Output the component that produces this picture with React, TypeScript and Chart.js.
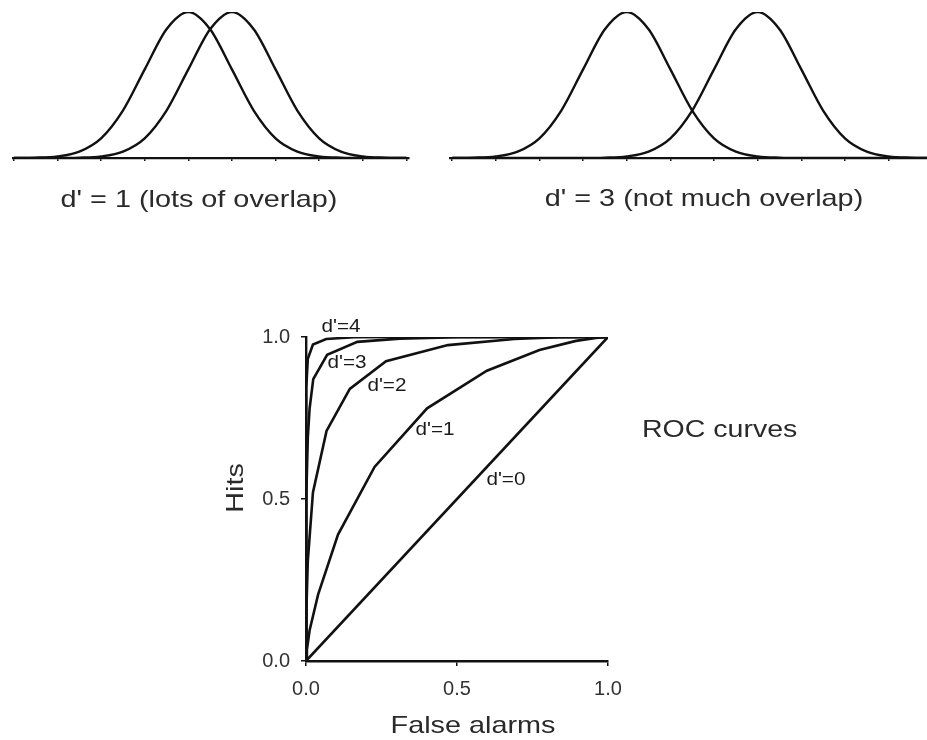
import React, { useEffect, useRef } from 'react';
import { Chart, registerables } from 'chart.js';

Chart.register(...registerables);

// ---------- Top panels: overlapping distributions ----------
const leftX = [-4, -3.5, -3, -2.5, -2, -1.5, -1, -0.5, 0, 0.5, 1, 1.5, 2, 2.5, 3, 3.5, 4, 4.5, 5];
const leftNoise = [0, 0.002, 0.011, 0.044, 0.135, 0.325, 0.607, 0.882, 1, 0.882, 0.607, 0.325, 0.135, 0.044, 0.011, 0.002, 0, 0, 0];
const leftSignal = [0, 0, 0, 0.002, 0.011, 0.044, 0.135, 0.325, 0.607, 0.882, 1, 0.882, 0.607, 0.325, 0.135, 0.044, 0.011, 0.002, 0];
const leftTicks = [-4, -3, -2, -1, 0, 1, 2, 3, 4, 5];
const leftCaption = "d' = 1 (lots of overlap)";

const rightX = [-4, -3.5, -3, -2.5, -2, -1.5, -1, -0.5, 0, 0.5, 1, 1.5, 2, 2.5, 3, 3.5, 4, 4.5, 5, 5.5, 6, 6.5, 7];
const rightNoise = [0, 0.002, 0.011, 0.044, 0.135, 0.325, 0.607, 0.882, 1, 0.882, 0.607, 0.325, 0.135, 0.044, 0.011, 0.002, 0, 0, 0, 0, 0, 0, 0];
const rightSignal = [0, 0, 0, 0, 0, 0, 0, 0.002, 0.011, 0.044, 0.135, 0.325, 0.607, 0.882, 1, 0.882, 0.607, 0.325, 0.135, 0.044, 0.011, 0.002, 0];
const rightTicks = [-4, -3, -2, -1, 0, 1, 2, 3, 4, 5, 6];
const rightCaption = "d' = 3 (not much overlap)";

// ---------- Bottom panel: ROC curves (False alarms, Hits) ----------
const roc0F = [0, 1];
const roc0H = [0, 1];
const roc1F = [0, 0.003, 0.012, 0.04, 0.106, 0.227, 0.401, 0.599, 0.773, 0.894, 0.96, 1];
const roc1H = [0, 0.035, 0.095, 0.205, 0.39, 0.599, 0.78, 0.896, 0.96, 0.988, 0.997, 1];
const roc2F = [0, 0.0013, 0.006, 0.023, 0.068, 0.145, 0.265, 0.47, 0.69, 0.84, 1];
const roc2H = [0, 0.159, 0.309, 0.52, 0.71, 0.84, 0.925, 0.975, 0.994, 0.999, 1];
const roc3F = [0, 0.0002, 0.0013, 0.006, 0.012, 0.024, 0.07, 0.17, 0.31, 0.5, 1];
const roc3H = [0, 0.309, 0.5, 0.69, 0.78, 0.87, 0.945, 0.985, 0.995, 0.999, 1];
const roc4F = [0, 0.0001, 0.0013, 0.006, 0.023, 0.067, 0.159, 0.309, 1];
const roc4H = [0, 0.5, 0.841, 0.933, 0.977, 0.994, 0.999, 1, 1];
const rocTicks = [0, 0.5, 1];
const curveNames = ["d'=0", "d'=1", "d'=2", "d'=3", "d'=4"];
const curveLabelF = [0.662, 0.427, 0.268, 0.136, 0.116];
const curveLabelH = [0.559, 0.713, 0.849, 0.92, 1.031];
const xTitle = 'False alarms';
const yTitle = 'Hits';
const sideNote = 'ROC curves';

const LINE = '#111111';
const TEXT = '#2a2a2a';
const TICK = '#333333';
const FAMILY = '"Liberation Sans", Arial, Helvetica, sans-serif';

const textPlugin = {
  id: 'texts',
  afterDraw(chart: any, _args: any, opts: any) {
    const ctx = chart.ctx;
    for (const it of opts.items || []) {
      let px = it.x;
      let py = it.y;
      if (it.data) {
        px = chart.scales.x.getPixelForValue(it.x);
        py = chart.scales.y.getPixelForValue(it.y);
      }
      ctx.save();
      ctx.translate(px, py);
      if (it.rotate) ctx.rotate(it.rotate);
      ctx.scale(it.stretch ?? 1, 1);
      ctx.font = `${it.size}px ${FAMILY}`;
      ctx.fillStyle = it.color ?? TEXT;
      ctx.textAlign = it.align ?? 'center';
      ctx.textBaseline = it.baseline ?? 'alphabetic';
      ctx.fillText(it.text, 0, 0);
      ctx.restore();
    }
  },
};

const pts = (xs: number[], ys: number[]) => xs.map((x, i) => ({ x, y: ys[i] }));

function topConfig(xs: number[], a: number[], b: number[], ticks: number[], min: number, max: number, pad: any, caption: any) {
  const ds = (ys: number[]) => ({
    data: pts(xs, ys),
    borderColor: LINE,
    borderWidth: 2.4,
    pointRadius: 0,
    cubicInterpolationMode: 'monotone',
    fill: false,
  });
  return {
    type: 'line',
    data: { datasets: [ds(a), ds(b)] },
    options: {
      animation: false,
      responsive: false,
      events: [],
      layout: { padding: pad },
      scales: {
        x: {
          type: 'linear',
          min,
          max,
          afterBuildTicks: (s: any) => { s.ticks = ticks.map((v) => ({ value: v })); },
          afterFit: (s: any) => { s.height = 10; },
          grid: { drawOnChartArea: false, drawTicks: true, tickLength: 3, color: LINE, lineWidth: 1.5 },
          border: { display: true, color: LINE, width: 2.2 },
          ticks: { display: false },
        },
        y: { display: false, min: 0, max: 1 },
      },
      plugins: {
        legend: { display: false },
        tooltip: { enabled: false },
        texts: { items: [caption] },
      },
    },
    plugins: [textPlugin],
  };
}

const ROC_TOP = 250;
const Y_AXIS_W = 70;

function rocConfig() {
  const ds = (f: number[], h: number[]) => ({
    data: pts(f, h),
    borderColor: LINE,
    borderWidth: 2.6,
    pointRadius: 0,
    tension: 0,
    fill: false,
  });
  const tickCfg = {
    color: TICK,
    font: { family: FAMILY, size: 20 },
    padding: 11,
    maxRotation: 0,
    callback: (v: any) => Number(v).toFixed(1),
  };
  const labels = curveNames.map((t, i) => ({
    text: t, x: curveLabelF[i], y: curveLabelH[i], data: true, size: 18, stretch: 1.15,
    baseline: 'middle', color: '#1a1a1a',
  }));
  return {
    type: 'line',
    data: {
      datasets: [ds(roc0F, roc0H), ds(roc1F, roc1H), ds(roc2F, roc2H), ds(roc3F, roc3H), ds(roc4F, roc4H)],
    },
    options: {
      animation: false,
      responsive: false,
      events: [],
      layout: { padding: { left: 306 - Y_AXIS_W, right: 319, top: 337 - ROC_TOP, bottom: 740 - 661 - 40 } },
      scales: {
        x: {
          type: 'linear',
          min: 0,
          max: 1,
          afterBuildTicks: (s: any) => { s.ticks = rocTicks.map((v) => ({ value: v })); },
          afterFit: (s: any) => { s.height = 40; },
          grid: { drawOnChartArea: false, tickLength: 5, color: LINE, lineWidth: 1.5 },
          border: { display: true, color: LINE, width: 2.4 },
          ticks: tickCfg,
        },
        y: {
          type: 'linear',
          min: 0,
          max: 1,
          afterBuildTicks: (s: any) => { s.ticks = rocTicks.map((v) => ({ value: v })); },
          afterFit: (s: any) => { s.width = Y_AXIS_W; },
          grid: { drawOnChartArea: false, tickLength: 5, color: LINE, lineWidth: 1.5 },
          border: { display: true, color: LINE, width: 2.4 },
          ticks: tickCfg,
        },
      },
      plugins: {
        legend: { display: false },
        tooltip: { enabled: false },
        texts: {
          items: [
            ...labels,
            { text: xTitle, x: 473, y: 733 - ROC_TOP, size: 24, stretch: 1.2 },
            { text: yTitle, x: 243, y: 488 - ROC_TOP, size: 24, stretch: 1.2, rotate: -Math.PI / 2 },
            { text: sideNote, x: 642, y: 437 - ROC_TOP, size: 23, stretch: 1.24, align: 'left' },
          ],
        },
      },
    },
    plugins: [textPlugin],
  };
}

function ChartBox({ left, top, width, height, build }: any) {
  const ref = useRef<HTMLCanvasElement | null>(null);
  useEffect(() => {
    const chart = new Chart(ref.current as HTMLCanvasElement, build());
    return () => chart.destroy();
  }, []);
  return (
    <canvas
      ref={ref}
      width={width}
      height={height}
      style={{ position: 'absolute', left, top, width, height, display: 'block' }}
    />
  );
}

export default function App() {
  return (
    <div style={{ position: 'absolute', left: 0, top: 0, width: 927, height: 740, overflow: 'hidden', background: '#fff' }}>
      <ChartBox
        left={0}
        top={0}
        width={440}
        height={230}
        build={() =>
          topConfig(leftX, leftNoise, leftSignal, leftTicks, -4.02, 5.06,
            { left: 13, right: 31, top: 12, bottom: 62 },
            { text: leftCaption, x: 199, y: 207, size: 24, stretch: 1.2 })
        }
      />
      <ChartBox
        left={440}
        top={0}
        width={487}
        height={230}
        build={() =>
          topConfig(rightX, rightNoise, rightSignal, rightTicks, -4.05, 6.88,
            { left: 10, right: 0, top: 12, bottom: 62 },
            { text: rightCaption, x: 264, y: 206, size: 24, stretch: 1.2 })
        }
      />
      <ChartBox left={0} top={ROC_TOP} width={927} height={740 - ROC_TOP} build={rocConfig} />
    </div>
  );
}
